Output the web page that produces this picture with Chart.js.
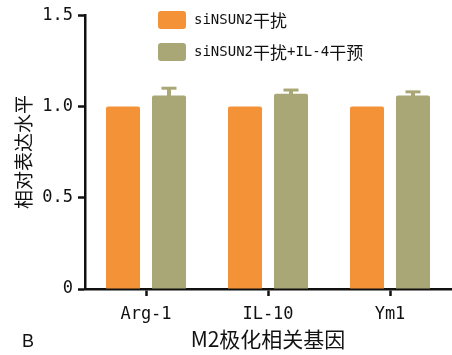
<!DOCTYPE html>
<html lang="zh">
<head>
    <meta charset="UTF-8"/>
    <title>M2极化相关基因</title>
    <script src="https://cdn.jsdelivr.net/npm/chart.js@4.4.1/dist/chart.umd.min.js"></script>
    <style>
        html, body { margin: 0; padding: 0; background: #fff; }
        #wrap { width: 452px; height: 355px; }
    </style>
</head>
<body>

<div id="wrap">
    <canvas id="chart" width="452" height="355"></canvas>
</div>

<script>
    // gene names on the x axis
    const genes = ['Arg-1', 'IL-10', 'Ym1'];

    // relative expression, knockdown only
    const knockdown = [1.0, 1.0, 1.0];
    // relative expression, knockdown + IL-4 stimulation
    const knockdownIL4 = [1.06, 1.07, 1.06];
    // upper error (SD) for the IL-4 group
    const knockdownIL4Err = [0.04, 0.02, 0.02];

    const yTicks = [0, 0.5, 1.0, 1.5];
    const yTickLabels = ['0', '0.5', '1.0', '1.5'];

    const seriesNames = ['siNSUN2干扰', 'siNSUN2干扰+IL-4干预'];
    const orange = 'rgb(244, 146, 56)';
    const olive = 'rgb(169, 167, 117)';

    const mono = '"DejaVu Sans Mono", monospace';
    const cjk = '"Noto Sans CJK SC", sans-serif';

    // draws text where latin runs and CJK runs use different faces
    function drawMixed(ctx, text, x, y, latinSize, cjkSize) {
        const runs = text.match(/[\u4e00-\u9fff]+|[^\u4e00-\u9fff]+/g);
        ctx.textAlign = 'left';
        ctx.textBaseline = 'middle';
        runs.forEach(run => {
            const isCjk = /[\u4e00-\u9fff]/.test(run);
            ctx.font = isCjk ? cjkSize + 'px ' + cjk : latinSize + 'px ' + mono;
            ctx.fillText(run, x, y);
            x += ctx.measureText(run).width;
        });
    }

    // error bars (upper half only) on top of each bar
    const errorBars = {
        id: 'errorBars',
        afterDatasetsDraw(chart) {
            const ctx = chart.ctx;
            const yScale = chart.scales.y;
            chart.data.datasets.forEach((ds, i) => {
                if (!ds.errors) return;
                const meta = chart.getDatasetMeta(i);
                meta.data.forEach((bar, j) => {
                    const top = yScale.getPixelForValue(ds.data[j] + ds.errors[j]);
                    ctx.save();
                    ctx.strokeStyle = ds.backgroundColor;
                    ctx.lineWidth = 4;
                    ctx.beginPath();
                    ctx.moveTo(bar.x, bar.y + 1);
                    ctx.lineTo(bar.x, top);
                    ctx.stroke();
                    ctx.lineWidth = 3;
                    ctx.beginPath();
                    ctx.moveTo(bar.x - 7.5, top);
                    ctx.lineTo(bar.x + 7.5, top);
                    ctx.stroke();
                    ctx.restore();
                });
            });
        }
    };

    // legend in the upper right plus the panel letter
    const extras = {
        id: 'extras',
        afterDraw(chart) {
            const ctx = chart.ctx;
            ctx.save();
            chart.data.datasets.forEach((ds, i) => {
                const y = 11 + i * 32;
                ctx.fillStyle = ds.backgroundColor;
                ctx.beginPath();
                ctx.roundRect(158, y, 28, 18, 3);
                ctx.fill();
                ctx.fillStyle = '#111';
                drawMixed(ctx, ds.label, 194, y + 9.5, 14, 17);
            });
            ctx.fillStyle = '#111';
            ctx.font = '18px "Liberation Sans", Arial, sans-serif';
            ctx.textAlign = 'left';
            ctx.textBaseline = 'middle';
            ctx.fillText('B', 22, 342);
            ctx.restore();
        }
    };

    const ctx = document.getElementById('chart').getContext('2d');
    const myChart = new Chart(ctx, {
        type: 'bar',
        data: {
            labels: genes,
            datasets: [
                {
                    label: seriesNames[0],
                    data: knockdown,
                    backgroundColor: orange,
                    borderRadius: 2,
                    borderSkipped: 'bottom'
                },
                {
                    label: seriesNames[1],
                    data: knockdownIL4,
                    errors: knockdownIL4Err,
                    backgroundColor: olive,
                    borderRadius: 2,
                    borderSkipped: 'bottom'
                }
            ]
        },
        options: {
            responsive: false,
            animation: false,
            events: [],
            layout: {
                padding: {top: 15, right: 1, bottom: 0, left: 0}
            },
            datasets: {
                bar: {
                    categoryPercentage: 0.754,
                    barPercentage: 0.74
                }
            },
            scales: {
                x: {
                    grid: {
                        display: true,
                        drawOnChartArea: false,
                        offset: false,
                        tickLength: 7,
                        tickWidth: 2.5,
                        tickColor: '#111'
                    },
                    border: {color: '#111', width: 2.5},
                    ticks: {
                        color: '#111',
                        padding: 8,
                        font: {family: mono, size: 17}
                    },
                    title: {
                        display: true,
                        text: 'M2极化相关基因',
                        color: '#111',
                        font: {family: cjk, size: 21},
                        padding: {top: 0, bottom: 3}
                    },
                    afterFit(scale) {
                        scale.height = 66;
                    }
                },
                y: {
                    min: 0,
                    max: 1.5,
                    afterBuildTicks(scale) {
                        scale.ticks = yTicks.map(v => ({value: v}));
                    },
                    grid: {
                        display: true,
                        drawOnChartArea: false,
                        tickLength: 7,
                        tickWidth: 2.5,
                        tickColor: '#111'
                    },
                    border: {color: '#111', width: 2.5},
                    ticks: {
                        color: '#111',
                        padding: 5,
                        font: {family: mono, size: 17},
                        callback: (v, i) => yTickLabels[i]
                    },
                    title: {
                        display: true,
                        text: '相对表达水平',
                        color: '#111',
                        font: {family: cjk, size: 19},
                        padding: {top: 12, bottom: 0}
                    },
                    afterFit(scale) {
                        scale.width = 85;
                    }
                }
            },
            plugins: {
                legend: {display: false},
                tooltip: {enabled: false}
            }
        },
        plugins: [errorBars, extras]
    });
</script>

</body>
</html>
